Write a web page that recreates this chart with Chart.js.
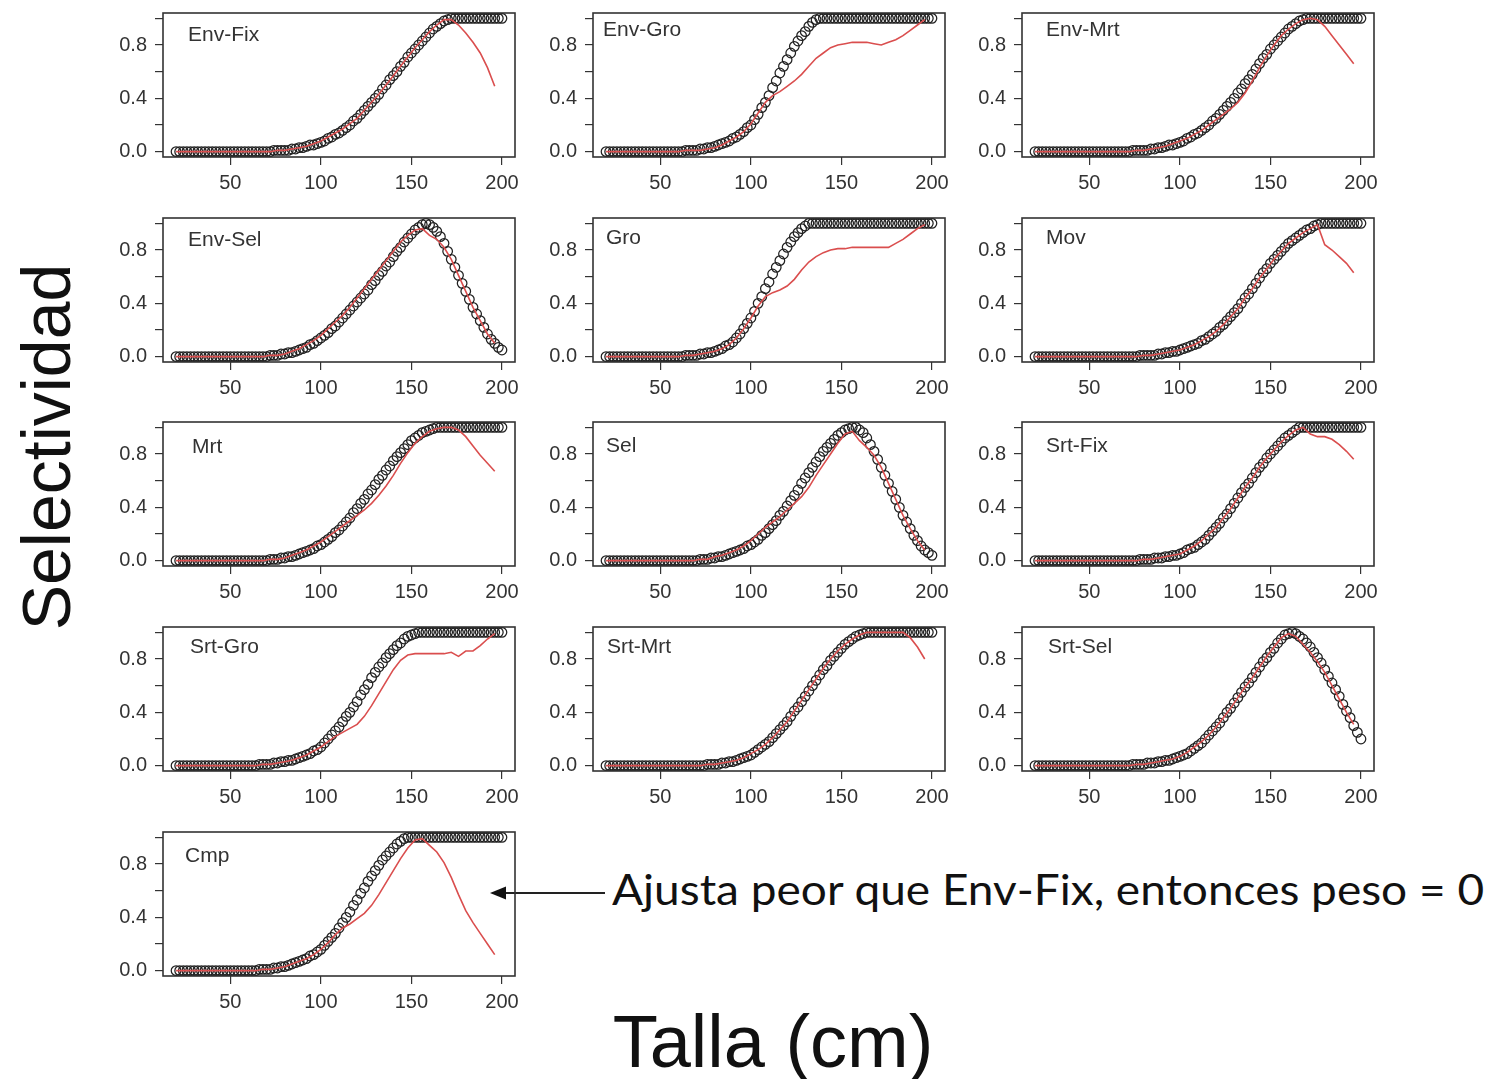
<!DOCTYPE html>
<html>
<head>
<meta charset="utf-8">
<script src="https://cdn.jsdelivr.net/npm/chart.js@4.4.0/dist/chart.umd.min.js"></script>
<style>
  body { margin: 0; background: #fff; }
  #page { position: relative; width: 1489px; height: 1079px; overflow: hidden; background: #fff; font-family: "Liberation Sans", Arial, sans-serif; }
  canvas.panel { position: absolute; }
  #ylab { position: absolute; left: 46px; top: 447px; transform: translate(-50%, -50%) rotate(-90deg); font-size: 68px; white-space: nowrap; color: #111; line-height: 1; }
  #xlab { position: absolute; left: 773px; top: 1005px; transform: translateX(-50%); font-size: 74px; white-space: nowrap; color: #111; line-height: 1; }
  #nota { position: absolute; left: 612px; top: 868px; font-family: Lato, "Open Sans", sans-serif; font-size: 42px; white-space: nowrap; color: #111; line-height: 1; transform-origin: 0 50%; transform: scaleX(1.095); }
  #flecha { position: absolute; left: 480px; top: 880px; }
</style>
</head>
<body>
<div id="page">
  <div id="ylab">Selectividad</div>
  <div id="xlab">Talla (cm)</div>
  <svg id="flecha" width="140" height="26">
    <line x1="20" y1="13" x2="125" y2="13" stroke="#222" stroke-width="2"/>
    <polygon points="10,13 26,6.5 26,19.5" fill="#111"/>
  </svg>
  <div id="nota">Ajusta peor que Env-Fix, entonces peso = 0</div>
</div>
<script>
// tallas del modelo (circulos) y de las observaciones (linea roja)
const tallas = [20,22,24,26,28,30,32,34,36,38,40,42,44,46,48,50,52,54,56,58,60,62,64,66,68,70,72,74,76,78,80,82,84,86,88,90,92,94,96,98,100,102,104,106,108,110,112,114,116,118,120,122,124,126,128,130,132,134,136,138,140,142,144,146,148,150,152,154,156,158,160,162,164,166,168,170,172,174,176,178,180,182,184,186,188,190,192,194,196,198,200];
const tallasObs = [20,24,28,32,36,40,44,48,52,56,60,64,68,72,76,80,84,88,92,96,100,104,108,112,116,120,124,128,132,136,140,144,148,152,156,160,164,168,172,176,180,184,188,192,196];

const escenarios = ["Env-Fix","Env-Gro","Env-Mrt","Env-Sel","Gro","Mov","Mrt","Sel","Srt-Fix","Srt-Gro","Srt-Mrt","Srt-Sel","Cmp"];

const ajusteEnvFix = [0,0,0,0,0,0,0,0,0,0, 0,0,0,0,0,0,0,0,0,0, 0,0,0,0,0,0,0,.01,.01,.01, .01,.01,.02,.02,.03,.03,.04,.05,.05,.06, .07,.08,.10,.11,.13,.14,.16,.18,.20,.23, .25,.28,.31,.34,.37,.40,.43,.47,.50,.54, .57,.60,.64,.67,.71,.74,.77,.80,.83,.86, .89,.92,.94,.96,.98,.99,1,1,1,1, 1,1,1,1,1,1,1,1,1,1, 1];
const obsEnvFix = [0,0,0,0,0,0,0,0,0,0, 0,0,0,0,.01,.01,.02,.03,.04,.06, .08,.11,.14,.17,.21,.25,.31,.37,.43,.50, .57,.64,.71,.78,.84,.90,.95,.99,.99,.95, .89,.82,.74,.63,.49];

const ajusteEnvGro = [0,0,0,0,0,0,0,0,0,0, 0,0,0,0,0,0,0,0,0,0, 0,0,.01,.01,.01,.01,.02,.02,.03,.03, .04,.05,.06,.07,.08,.10,.11,.13,.15,.18, .20,.24,.28,.33,.37,.42,.48,.53,.59,.64, .69,.74,.79,.83,.87,.90,.94,.97,.99,1, 1,1,1,1,1,1,1,1,1,1, 1,1,1,1,1,1,1,1,1,1, 1,1,1,1,1,1,1,1,1,1, 1];
const obsEnvGro = [0,0,0,0,0,0,0,0,0,0, 0,.01,.01,.01,.02,.03,.05,.08,.11,.15, .21,.29,.37,.42,.45,.49,.53,.58,.64,.70, .74,.78,.80,.81,.82,.82,.82,.81,.80,.82, .84,.87,.91,.95,.99];

const ajusteEnvMrt = [0,0,0,0,0,0,0,0,0,0, 0,0,0,0,0,0,0,0,0,0, 0,0,0,0,0,0,0,.01,.01,.01, .01,.01,.02,.02,.03,.03,.04,.05,.05,.06, .07,.08,.10,.11,.13,.14,.16,.18,.20,.23, .25,.28,.31,.34,.37,.40,.44,.47,.51,.54, .58,.62,.66,.70,.73,.77,.80,.83,.86,.89, .92,.94,.96,.98,.99,1,1,1,1,1, 1,1,1,1,1,1,1,1,1,1, 1];
const obsEnvMrt = [0,0,0,0,0,0,0,0,0,0, 0,0,0,0,.01,.01,.02,.03,.04,.06, .08,.10,.13,.16,.20,.24,.28,.32,.37,.44, .53,.63,.72,.80,.87,.92,.96,.99,1,.99, .94,.87,.80,.73,.66];

const ajusteEnvSel = [0,0,0,0,0,0,0,0,0,0, 0,0,0,0,0,0,0,0,0,0, 0,0,0,0,0,0,.01,.01,.01,.02, .02,.03,.03,.04,.05,.06,.07,.09,.10,.12, .14,.16,.18,.21,.23,.26,.29,.32,.35,.38, .41,.44,.47,.50,.54,.57,.61,.64,.68,.71, .75,.79,.82,.86,.89,.92,.95,.97,.99,1, .99,.97,.94,.90,.85,.79,.73,.67,.61,.55, .49,.43,.37,.32,.27,.22,.17,.13,.10,.07, .05];
const obsEnvSel = [0,0,0,0,0,0,0,0,0,0, 0,0,0,.01,.01,.02,.04,.06,.09,.12, .16,.21,.26,.31,.37,.44,.51,.58,.65,.72, .79,.86,.91,.95,.96,.91,.88,.82,.73,.61, .49,.37,.27,.17,.10];

const ajusteGro = [0,0,0,0,0,0,0,0,0,0, 0,0,0,0,0,0,0,0,0,0, 0,0,.01,.01,.01,.01,.02,.02,.03,.03, .04,.05,.06,.08,.09,.11,.14,.17,.21,.25, .29,.34,.40,.45,.51,.56,.62,.67,.72,.77, .82,.86,.90,.93,.96,.98,1,1,1,1, 1,1,1,1,1,1,1,1,1,1, 1,1,1,1,1,1,1,1,1,1, 1,1,1,1,1,1,1,1,1,1, 1];
const obsGro = [0,0,0,0,0,0,0,0,0,0, 0,.01,.01,.02,.03,.04,.06,.09,.14,.21, .29,.38,.45,.48,.50,.53,.58,.65,.71,.75, .78,.80,.81,.81,.82,.82,.82,.82,.82,.82, .85,.88,.92,.96,.99];

const ajusteMov = [0,0,0,0,0,0,0,0,0,0, 0,0,0,0,0,0,0,0,0,0, 0,0,0,0,0,0,0,0,0,.01, .01,.01,.01,.01,.02,.02,.03,.03,.04,.04, .05,.06,.07,.08,.09,.10,.12,.13,.15,.17, .19,.22,.24,.27,.30,.33,.36,.40,.44,.47, .51,.55,.59,.63,.66,.70,.73,.76,.79,.82, .85,.87,.89,.91,.93,.95,.96,.98,.99,1, 1,1,1,1,1,1,1,1,1,1, 1];
const obsMov = [0,0,0,0,0,0,0,0,0,0, 0,0,0,0,0,.01,.01,.02,.03,.04, .05,.07,.09,.12,.15,.19,.24,.30,.36,.44, .51,.59,.66,.73,.79,.85,.89,.93,.96,.99, .84,.80,.75,.70,.63];

const ajusteMrt = [0,0,0,0,0,0,0,0,0,0, 0,0,0,0,0,0,0,0,0,0, 0,0,0,0,0,0,.01,.01,.01,.02, .02,.03,.03,.04,.05,.06,.07,.08,.09,.11, .12,.14,.16,.18,.21,.23,.26,.29,.32,.36, .39,.43,.46,.50,.53,.57,.61,.64,.68,.71, .75,.78,.81,.84,.87,.90,.92,.94,.96,.97, .98,.99,1,1,1,1,1,1,1,1, 1,1,1,1,1,1,1,1,1,1, 1];
const obsMrt = [0,0,0,0,0,0,0,0,0,0, 0,0,0,.01,.01,.02,.04,.06,.08,.11, .14,.18,.22,.26,.30,.34,.38,.43,.49,.56, .64,.73,.81,.88,.93,.97,.99,1,1,.98, .93,.86,.79,.73,.67];

const ajusteSel = [0,0,0,0,0,0,0,0,0,0, 0,0,0,0,0,0,0,0,0,0, 0,0,0,0,0,0,.01,.01,.01,.02, .02,.03,.03,.04,.05,.06,.07,.08,.09,.11, .12,.14,.16,.19,.21,.24,.27,.30,.34,.37, .41,.45,.49,.53,.58,.62,.66,.70,.74,.78, .82,.85,.88,.91,.94,.96,.98,.99,1,1, .98,.96,.92,.87,.82,.76,.70,.64,.58,.52, .46,.40,.34,.29,.24,.19,.15,.11,.08,.06, .04];
const obsSel = [0,0,0,0,0,0,0,0,0,0, 0,0,0,.01,.01,.03,.04,.06,.08,.11, .15,.20,.25,.29,.33,.38,.43,.48,.55,.64, .72,.80,.88,.95,.97,.90,.85,.79,.70,.58, .46,.34,.24,.15,.08];

const ajusteSrtFix = [0,0,0,0,0,0,0,0,0,0, 0,0,0,0,0,0,0,0,0,0, 0,0,0,0,0,0,0,0,0,.01, .01,.01,.01,.02,.02,.02,.03,.03,.04,.04, .05,.06,.08,.09,.10,.12,.14,.16,.19,.22, .25,.28,.32,.35,.39,.43,.47,.51,.55,.58, .62,.66,.70,.73,.77,.80,.83,.86,.89,.92, .94,.96,.98,1,1,1,1,1,1,1, 1,1,1,1,1,1,1,1,1,1, 1];
const obsSrtFix = [0,0,0,0,0,0,0,0,0,0, 0,0,0,0,0,.01,.01,.02,.03,.04, .05,.08,.11,.15,.20,.25,.32,.39,.47,.55, .62,.70,.77,.83,.89,.94,.98,1,.95,.93, .93,.91,.87,.82,.76];

const ajusteSrtGro = [0,0,0,0,0,0,0,0,0,0, 0,0,0,0,0,0,0,0,0,0, 0,0,0,.01,.01,.01,.01,.02,.02,.03, .03,.04,.04,.05,.06,.07,.08,.09,.11,.12, .14,.17,.20,.23,.26,.29,.33,.37,.40,.44, .48,.53,.57,.61,.66,.70,.74,.77,.81,.84, .87,.90,.92,.95,.97,.98,.99,1,1,1, 1,1,1,1,1,1,1,1,1,1, 1,1,1,1,1,1,1,1,1,1, 1];
const obsSrtGro = [0,0,0,0,0,0,0,0,0,0, 0,0,.01,.01,.02,.03,.04,.06,.08,.11, .14,.18,.22,.25,.28,.31,.37,.45,.54,.63, .72,.79,.83,.84,.84,.84,.84,.84,.85,.82, .86,.86,.90,.95,.99];

const ajusteSrtMrt = [0,0,0,0,0,0,0,0,0,0, 0,0,0,0,0,0,0,0,0,0, 0,0,0,0,0,0,0,0,.01,.01, .01,.01,.02,.02,.03,.03,.04,.05,.06,.07, .08,.10,.12,.14,.16,.18,.21,.24,.27,.30, .33,.37,.41,.44,.48,.52,.56,.60,.64,.68, .72,.75,.79,.82,.85,.88,.91,.93,.95,.97, .98,.99,1,1,1,1,1,1,1,1, 1,1,1,1,1,1,1,1,1,1, 1];
const obsSrtMrt = [0,0,0,0,0,0,0,0,0,0, 0,0,0,0,.01,.01,.02,.03,.04,.06, .09,.12,.16,.21,.27,.33,.41,.49,.57,.65, .73,.80,.86,.91,.95,.98,1,1,1,1, 1,1,.96,.89,.80];

const ajusteSrtSel = [0,0,0,0,0,0,0,0,0,0, 0,0,0,0,0,0,0,0,0,0, 0,0,0,0,0,0,0,.01,.01,.01, .01,.02,.02,.02,.03,.03,.04,.04,.05,.06, .07,.08,.09,.11,.13,.15,.17,.20,.23,.26, .29,.32,.36,.40,.43,.47,.51,.55,.59,.62, .66,.70,.74,.78,.81,.85,.88,.92,.95,.98, .99,1,.99,.97,.95,.92,.89,.85,.81,.77, .72,.67,.62,.57,.52,.46,.41,.36,.30,.25, .20];
const obsSrtSel = [0,0,0,0,0,0,0,0,0,0, 0,0,0,0,.01,.01,.02,.03,.04,.05, .07,.10,.14,.18,.23,.29,.36,.43,.51,.59, .66,.74,.82,.89,.96,.99,.97,.91,.85,.78, .70,.60,.50,.40,.31];

const ajusteCmp = [0,0,0,0,0,0,0,0,0,0, 0,0,0,0,0,0,0,0,0,0, 0,0,0,.01,.01,.01,.01,.02,.02,.03, .03,.04,.05,.06,.07,.08,.09,.11,.12,.14, .16,.19,.22,.25,.28,.32,.36,.40,.44,.49, .53,.58,.62,.67,.71,.75,.79,.83,.86,.89, .92,.95,.97,.99,1,1,1,1,1,1, 1,1,1,1,1,1,1,1,1,1, 1,1,1,1,1,1,1,1,1,1, 1];
const obsCmp = [0,0,0,0,0,0,0,0,0,0, 0,0,.01,.01,.02,.03,.05,.07,.09,.12, .16,.21,.27,.32,.35,.39,.43,.49,.57,.66, .75,.84,.92,.98,.99,.94,.89,.81,.70,.57, .45,.36,.28,.20,.12];

const ajustes = [ajusteEnvFix, ajusteEnvGro, ajusteEnvMrt, ajusteEnvSel, ajusteGro, ajusteMov, ajusteMrt, ajusteSel, ajusteSrtFix, ajusteSrtGro, ajusteSrtMrt, ajusteSrtSel, ajusteCmp];
const observados = [obsEnvFix, obsEnvGro, obsEnvMrt, obsEnvSel, obsGro, obsMov, obsMrt, obsSel, obsSrtFix, obsSrtGro, obsSrtMrt, obsSrtSel, obsCmp];

const ticksX = [50, 100, 150, 200];
const ticksY = [0, 0.2, 0.4, 0.6, 0.8, 1.0];
const etiquetasY = [0, 0.4, 0.8];

// disposicion de los paneles (marco de cada grafico)
const marcoIzq = [163, 593, 1022];
const marcoSup = [13, 218, 422, 627, 832];
const anchoMarco = 352, altoMarco = 144;
const padIzq = 70, padSup = 10, padDer = 20, padInf = 45;
const posTitulo = [[25,22],[10,17],[24,17],[25,22],[13,20],[24,20],[29,25],[13,24],[24,24],[27,20],[14,20],[26,20],[22,24]];

const marco = {
  id: 'marco',
  afterDraw(chart, args, opts) {
    const { ctx, chartArea: a } = chart;
    ctx.save();
    ctx.strokeStyle = '#333';
    ctx.lineWidth = 1.6;
    ctx.strokeRect(a.left, a.top, a.right - a.left, a.bottom - a.top);
    ctx.fillStyle = '#333';
    ctx.font = '21px "Liberation Sans", Arial, sans-serif';
    ctx.textBaseline = 'middle';
    ctx.fillText(opts.texto, a.left + opts.dx, a.top + opts.dy);
    ctx.restore();
  }
};

// sin relleno extra de las etiquetas: el area de dibujo queda fija
const sinRelleno = s => { s.paddingTop = 0; s.paddingBottom = 0; s.paddingLeft = 0; s.paddingRight = 0; };

const page = document.getElementById('page');
const fuenteEje = { size: 20, family: '"Liberation Sans", Arial, sans-serif' };

escenarios.forEach((nombre, i) => {
  const col = i % 3, fila = Math.floor(i / 3);
  const cv = document.createElement('canvas');
  cv.className = 'panel';
  cv.width = anchoMarco + padIzq + padDer;
  cv.height = altoMarco + padSup + padInf;
  cv.style.left = (marcoIzq[col] - padIzq) + 'px';
  cv.style.top = (marcoSup[fila] - padSup) + 'px';
  page.appendChild(cv);

  new Chart(cv, {
    type: 'scatter',
    data: {
      datasets: [
        {
          data: observados[i].map((y, k) => ({ x: tallasObs[k], y: y })),
          showLine: true,
          borderColor: 'rgb(218,78,78)',
          borderWidth: 1.6,
          pointRadius: 0,
          order: 0
        },
        {
          data: ajustes[i].map((y, k) => ({ x: tallas[k], y: y })),
          pointStyle: 'circle',
          pointRadius: 4.8,
          borderColor: '#202020',
          backgroundColor: 'rgba(0,0,0,0)',
          borderWidth: 1.25,
          order: 1
        }
      ]
    },
    options: {
      responsive: false,
      animation: false,
      devicePixelRatio: 1,
      layout: { padding: { left: 0, top: padSup, right: padDer, bottom: 0 } },
      plugins: {
        legend: { display: false },
        tooltip: { enabled: false },
        marco: { texto: nombre, dx: posTitulo[i][0], dy: posTitulo[i][1] }
      },
      scales: {
        x: {
          type: 'linear',
          min: 12.8,
          max: 207.2,
          afterBuildTicks: s => { s.ticks = ticksX.map(v => ({ value: v })); },
          afterFit: s => { s.height = padInf; sinRelleno(s); },
          grid: { drawOnChartArea: false, drawTicks: true, tickLength: 8, color: '#333', lineWidth: 1.2 },
          border: { display: false },
          ticks: { color: '#333', font: fuenteEje, padding: 6, maxRotation: 0, autoSkip: false }
        },
        y: {
          min: -0.04,
          max: 1.04,
          afterBuildTicks: s => { s.ticks = ticksY.map(v => ({ value: v })); },
          afterFit: s => { s.width = padIzq; sinRelleno(s); },
          grid: { drawOnChartArea: false, drawTicks: true, tickLength: 8, color: '#333', lineWidth: 1.2 },
          border: { display: false },
          ticks: {
            color: '#333',
            font: fuenteEje,
            padding: 8,
            autoSkip: false,
            callback: v => etiquetasY.includes(v) ? v.toFixed(1) : ''
          }
        }
      }
    },
    plugins: [marco]
  });
});
</script>
</body>
</html>
